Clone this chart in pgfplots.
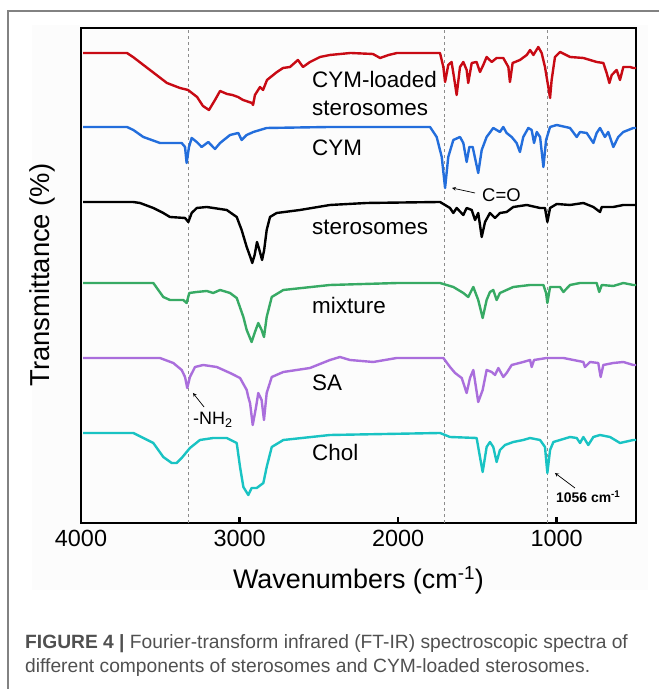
\documentclass[border=0pt]{standalone}
\usepackage{pgfplots}
\pgfplotsset{compat=1.18}
\usepackage{fontspec}
\setmainfont{Liberation Sans}

\definecolor{cred}{RGB}{200,10,20}
\definecolor{cblue}{RGB}{35,110,220}
\definecolor{cgreen}{RGB}{55,170,100}
\definecolor{cpurple}{RGB}{170,110,220}
\definecolor{ccyan}{RGB}{25,195,195}
\definecolor{dashgray}{RGB}{140,140,140}
\definecolor{framegray}{RGB}{130,130,130}
\definecolor{captgray}{RGB}{80,80,80}
\definecolor{chartbg}{RGB}{252,252,252}

\begin{document}
\begin{tikzpicture}[x=1bp,y=1bp]
\useasboundingbox (0,0) rectangle (659,689);
\fill[chartbg] (32,99) rectangle (648,664);
\draw[framegray, line width=1.2bp] (8,0) -- (8,678) -- (659,678);

\begin{axis}[
    at={(81bp,166bp)}, anchor=south west,
    scale only axis, width=555bp, height=495bp,
    xmin=500, xmax=4000, x dir=reverse,
    ymin=-523, ymax=-28,
    xtick={1000,2000,3000,4000}, ytick=\empty,
    xtick pos=lower, tick align=inside,
    major tick length=6bp,
    tick style={line width=2.5bp, black},
    axis line style={line width=2.6bp},
    /pgf/number format/1000 sep={},
    /pgf/number format/assume math mode=true,
    ticklabel style={font=\fontsize{23.5}{28}\selectfont},
    every x tick label/.append style={yshift=-4bp},
    clip=true,
    every axis plot/.append style={line width=2.4bp, line join=round},
]
% reference lines
\draw[dashgray, dashed, line width=0.9bp] (axis cs:3320,-523) -- (axis cs:3320,-28);
\draw[dashgray, dashed, line width=0.9bp] (axis cs:1706,-523) -- (axis cs:1706,-28);
\draw[dashgray, dashed, line width=0.9bp] (axis cs:1056,-523) -- (axis cs:1056,-28);

% CYM-loaded sterosomes
\addplot[cred] coordinates {
(3987,-53) (3710,-53) (3672,-57) (3565,-70) (3458,-83) (3376,-88) (3325,-90)
(3268,-97) (3231,-106) (3193,-110) (3155,-100) (3123,-91) (3079,-94) (3045,-95)
(3010,-97) (2978,-100) (2922,-103) (2915,-105) (2903,-95) (2871,-87) (2852,-90)
(2827,-80) (2764,-72) (2726,-68) (2682,-67) (2632,-60) (2600,-67) (2556,-62)
(2493,-57) (2430,-55) (2300,-53) (2159,-54) (2114,-58) (2060,-55) (2007,-53)
(1736,-53) (1715,-67) (1704,-82) (1684,-65) (1663,-62) (1648,-77) (1631,-95)
(1610,-67) (1589,-62) (1568,-70) (1558,-83) (1536,-63) (1505,-62) (1484,-72)
(1463,-65) (1442,-57) (1410,-62) (1379,-58) (1337,-58) (1305,-67) (1295,-82)
(1278,-63) (1232,-60) (1189,-55) (1168,-50) (1147,-55) (1116,-47) (1095,-53)
(1074,-67) (1053,-87) (1042,-98) (1032,-80) (1011,-57) (979,-52) (916,-57)
(832,-58) (748,-62) (706,-63) (685,-73) (668,-83) (653,-75) (622,-70)
(601,-80) (580,-67) (538,-67) (517,-68) (500,-68)
};

% CYM
\addplot[cblue] coordinates {
(3987,-127) (3710,-127) (3670,-130) (3607,-137) (3502,-143) (3365,-143)
(3344,-147) (3334,-163) (3319,-147) (3302,-138) (3270,-142) (3239,-147)
(3197,-142) (3186,-144) (3155,-149) (3123,-143) (3060,-135) (3008,-133)
(2987,-140) (2955,-135) (2913,-132) (2871,-130) (2829,-128) (2430,-127)
(1799,-127) (1757,-137) (1725,-157) (1704,-188) (1684,-157) (1652,-140)
(1610,-137) (1589,-143) (1568,-162) (1551,-147) (1530,-147) (1495,-173)
(1473,-150) (1442,-137) (1400,-128) (1358,-132) (1337,-127) (1316,-133)
(1284,-137) (1253,-143) (1232,-152) (1211,-137) (1179,-128) (1158,-130)
(1143,-143) (1126,-132) (1105,-137) (1084,-167) (1067,-140) (1042,-127)
(1000,-125) (916,-128) (874,-137) (853,-132) (811,-133) (769,-143)
(748,-133) (727,-128) (696,-137) (675,-132) (643,-147) (612,-137)
(580,-132) (517,-128) (500,-128)
};

% sterosomes
\addplot[black] coordinates {
(3987,-202) (3672,-202) (3628,-203) (3544,-208) (3481,-213) (3439,-217)
(3344,-218) (3323,-222) (3302,-213) (3270,-208) (3207,-207) (3081,-210)
(3018,-217) (2987,-230) (2955,-247) (2930,-258) (2920,-263) (2905,-255)
(2890,-242) (2875,-250) (2858,-260) (2845,-250) (2829,-230) (2808,-217)
(2766,-213) (2619,-210) (2430,-205) (2200,-203) (1736,-202) (1673,-208)
(1652,-213) (1631,-208) (1589,-215) (1568,-208) (1536,-210) (1515,-220)
(1495,-213) (1473,-237) (1452,-222) (1421,-213) (1389,-218) (1358,-213)
(1316,-212) (1274,-207) (1189,-205) (1105,-208) (1074,-208) (1059,-222)
(1042,-208) (1000,-204) (916,-205) (832,-203) (769,-207) (727,-212)
(716,-207) (643,-207) (580,-205) (517,-205) (500,-205)
};

% mixture
\addplot[cgreen] coordinates {
(3987,-283) (3544,-283) (3481,-297) (3439,-300) (3355,-300) (3334,-303)
(3317,-293) (3270,-292) (3207,-291) (3166,-293) (3123,-290) (3060,-293)
(3018,-298) (2976,-317) (2955,-330) (2924,-342) (2903,-332) (2882,-323)
(2861,-330) (2846,-337) (2829,-317) (2797,-297) (2724,-290) (2430,-285)
(2000,-283) (1736,-283) (1652,-287) (1589,-293) (1558,-297) (1526,-287)
(1495,-300) (1467,-318) (1442,-300) (1421,-292) (1400,-290) (1379,-300)
(1358,-293) (1274,-287) (1168,-285) (1084,-285) (1067,-293) (1059,-303)
(1042,-287) (979,-287) (958,-292) (916,-285) (853,-283) (748,-283)
(732,-292) (716,-285) (643,-286) (580,-283) (517,-285) (500,-285)
};

% SA
\addplot[cpurple] coordinates {
(3987,-358) (3502,-358) (3418,-363) (3365,-370) (3344,-377) (3330,-388)
(3313,-377) (3281,-367) (3229,-365) (3144,-367) (3060,-373) (2997,-378)
(2955,-390) (2945,-397) (2934,-403) (2917,-425) (2896,-407) (2882,-393)
(2861,-400) (2846,-420) (2829,-393) (2797,-377) (2724,-372) (2556,-368)
(2430,-360) (2367,-357) (2304,-360) (2157,-362) (2009,-358) (1715,-358)
(1673,-367) (1641,-373) (1599,-378) (1568,-393) (1547,-378) (1526,-370)
(1495,-402) (1467,-390) (1442,-370) (1410,-372) (1389,-375) (1368,-368)
(1337,-377) (1316,-373) (1284,-365) (1211,-362) (1168,-360) (1158,-367)
(1143,-360) (1063,-358) (958,-358) (832,-362) (822,-367) (790,-362)
(738,-363) (723,-377) (706,-365) (643,-363) (580,-362) (517,-365) (500,-365)
};

% Chol
\addplot[ccyan] coordinates {
(3987,-433) (3670,-433) (3544,-443) (3481,-457) (3428,-463) (3397,-463)
(3365,-458) (3313,-448) (3250,-440) (3166,-438) (3081,-438) (3018,-443)
(2997,-467) (2976,-487) (2945,-495) (2924,-488) (2892,-488) (2850,-483)
(2829,-467) (2797,-447) (2724,-440) (2430,-435) (1736,-433) (1673,-437)
(1505,-438) (1484,-457) (1467,-472) (1442,-447) (1421,-442) (1400,-447)
(1379,-462) (1358,-450) (1326,-445) (1274,-442) (1211,-440) (1168,-438)
(1105,-440) (1074,-447) (1059,-473) (1042,-450) (1021,-442) (979,-440)
(916,-437) (874,-438) (853,-443) (832,-437) (801,-445) (769,-437)
(727,-435) (664,-437) (601,-443) (517,-440) (500,-440)
};

% labels
\begin{scope}[every node/.style={anchor=west, inner sep=0pt, font=\fontsize{22.5}{26}\selectfont}]
\node at (axis cs:2543,-80) {CYM-loaded};
\node at (axis cs:2543,-108) {sterosomes};
\node at (axis cs:2543,-148) {CYM};
\node at (axis cs:2543,-227) {sterosomes};
\node at (axis cs:2543,-305) {mixture};
\node at (axis cs:2543,-383) {SA};
\node at (axis cs:2543,-452) {Chol};
\end{scope}

% annotations
\draw[-stealth, line width=0.7bp] (axis cs:1515,-193) -- (axis cs:1660,-188);
\node[anchor=west, inner sep=0pt, font=\fontsize{18.5}{22}\selectfont] at (axis cs:1471,-195) {C=O};
\draw[-stealth, line width=0.7bp] (axis cs:3224,-407) -- (axis cs:3294,-393);
\node[anchor=west, inner sep=0pt, font=\fontsize{18}{22}\selectfont] at (axis cs:3294,-420) {-NH\textsubscript{2}};
\draw[-stealth, line width=0.7bp] (axis cs:885,-488) -- (axis cs:1011,-473);
\node[anchor=west, inner sep=0pt, font=\bfseries\fontsize{14}{17}\selectfont] at (axis cs:1005,-497) {1056 cm\textsuperscript{-1}};
\end{axis}

% axis titles
\node[font=\fontsize{27}{32}\selectfont] at (358.5,109) {Wavenumbers (cm\textsuperscript{-1})};
\node[rotate=90, font=\fontsize{27.5}{32}\selectfont] at (42,414) {Transmittance (\%)};

% caption
\node[anchor=west, inner sep=0pt, text=captgray, font=\fontsize{19.3}{23}\selectfont] at (25,45)
  {\textbf{FIGURE 4 |} Fourier-transform infrared (FT-IR) spectroscopic spectra of};
\node[anchor=west, inner sep=0pt, text=captgray, font=\fontsize{19.3}{23}\selectfont] at (25,21)
  {different components of sterosomes and CYM-loaded sterosomes.};
\end{tikzpicture}
\end{document}
